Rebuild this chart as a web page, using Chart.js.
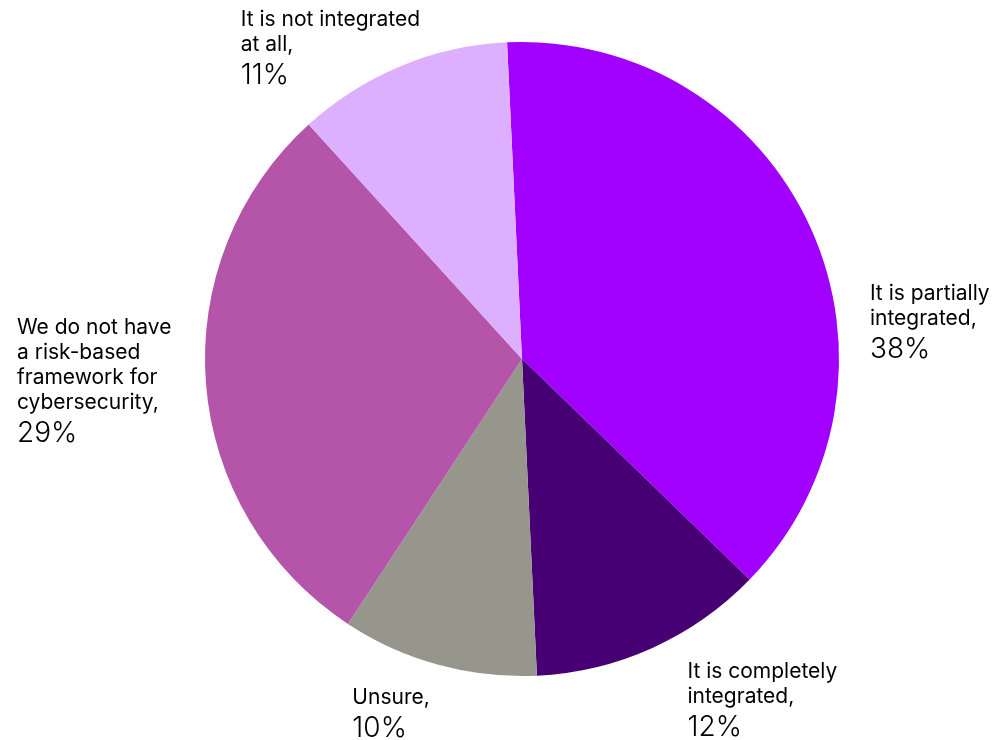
<!DOCTYPE html>
<html>
<head>
<meta charset="utf-8">
<script src="https://cdn.jsdelivr.net/npm/chart.js@4/dist/chart.umd.min.js"></script>
<style>
  html, body { margin: 0; padding: 0; background: #ffffff; }
  #wrap { width: 1001px; height: 740px; }
</style>
</head>
<body>
<div id="wrap"><canvas id="c" width="1001" height="740"></canvas></div>
<script>
const categories = [
  "It is partially integrated,",
  "It is completely integrated,",
  "Unsure,",
  "We do not have a risk-based framework for cybersecurity,",
  "It is not integrated at all,"
];
const labelLines = [
  ["It is partially", "integrated,"],
  ["It is completely", "integrated,"],
  ["Unsure,"],
  ["We do not have", "a risk-based", "framework for", "cybersecurity,"],
  ["It is not integrated", "at all,"]
];
const values = [38, 12, 10, 29, 11];
const colors = ["#A100FF", "#460073", "#96968C", "#B455AA", "#DCAFFF"];

// label offsets from the arc's outer mid-point (annotation placement only)
const labelNudge = [[59, 71], [35, 30], [-86, 39], [-189, -50], [-160, -40]];

const outsideLabels = {
  id: 'outsideLabels',
  afterDatasetsDraw(chart) {
    const ctx = chart.ctx;
    const meta = chart.getDatasetMeta(0);
    ctx.save();
    ctx.fillStyle = '#000000';
    ctx.textAlign = 'left';
    ctx.textBaseline = 'alphabetic';
    meta.data.forEach((arc, i) => {
      const p = arc.getProps(['x', 'y', 'startAngle', 'endAngle', 'outerRadius'], true);
      const mid = (p.startAngle + p.endAngle) / 2;
      const ax = p.x + Math.cos(mid) * p.outerRadius + labelNudge[i][0];
      let ay = p.y + Math.sin(mid) * p.outerRadius + labelNudge[i][1];
      ctx.font = '400 21px Inter';
      labelLines[i].forEach((ln, k) => {
        ctx.fillText(ln, ax, ay + k * 25);
      });
      ctx.font = '300 28px Inter';
      ctx.fillText(values[i] + '%', ax, ay + (labelLines[i].length - 1) * 25 + 33);
    });
    ctx.restore();
  }
};

new Chart(document.getElementById('c'), {
  type: 'pie',
  data: {
    labels: categories,
    datasets: [{
      data: values,
      backgroundColor: colors,
      borderWidth: 0
    }]
  },
  options: {
    responsive: false,
    animation: false,
    rotation: -2.7,
    layout: { padding: { top: 42, bottom: 64, left: 100, right: 57 } },
    plugins: {
      legend: { display: false },
      tooltip: { enabled: false }
    }
  },
  plugins: [outsideLabels]
});
</script>
</body>
</html>
